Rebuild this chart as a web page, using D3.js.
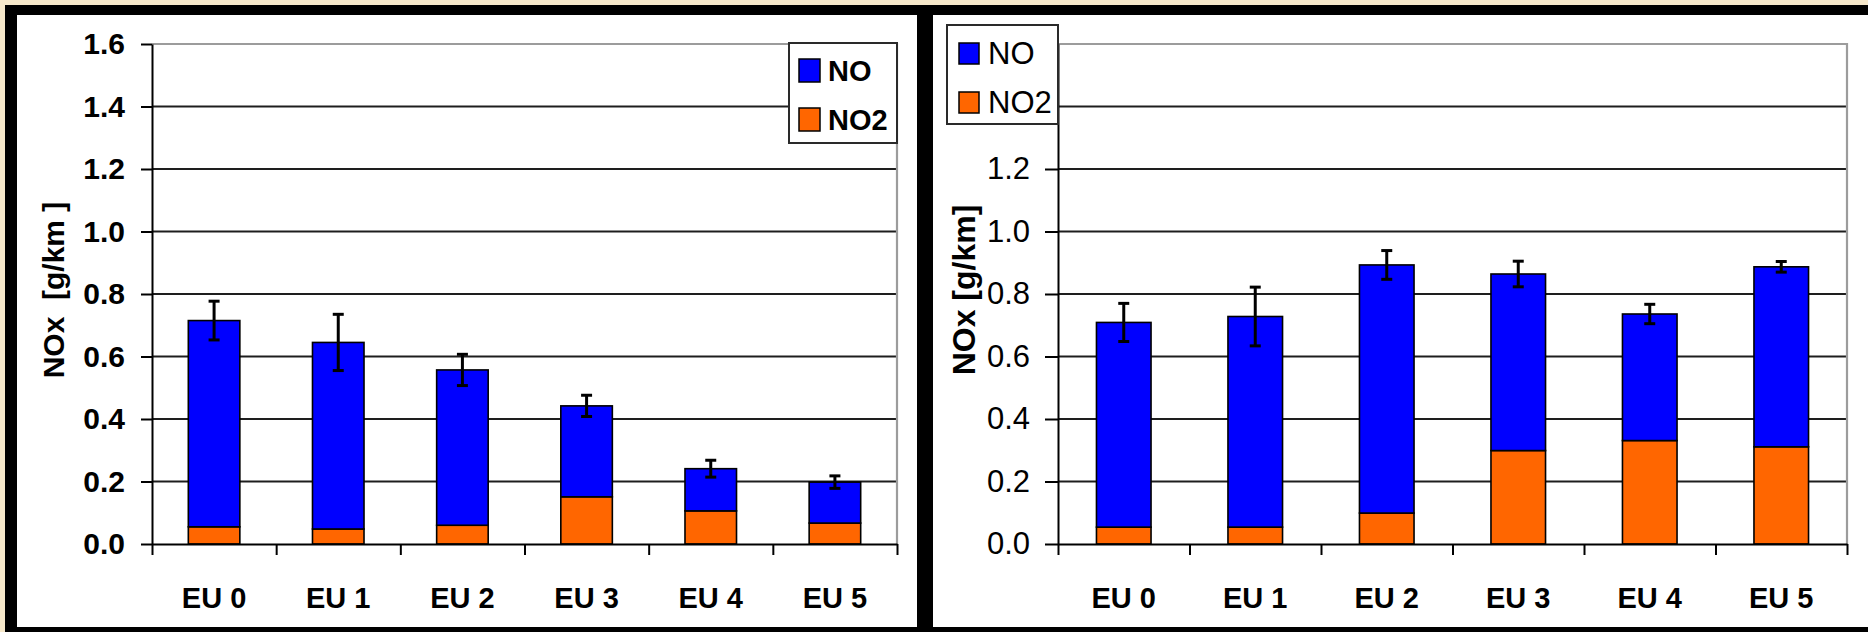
<!DOCTYPE html>
<html>
<head>
<meta charset="utf-8">
<script src="https://cdn.jsdelivr.net/npm/d3@7"></script>
<style>
  html, body { margin: 0; padding: 0; background: #f6e8ca; }
  svg { display: block; }
  text { font-family: "Liberation Sans", Arial, sans-serif; fill: #000; }
</style>
</head>
<body>
<svg id="chart" width="1868" height="632"></svg>
<script>
// ---------- DATA ----------
const categories = ["EU 0", "EU 1", "EU 2", "EU 3", "EU 4", "EU 5"];
const seriesNames = ["NO", "NO2"];
const yTickValues = [0, 0.2, 0.4, 0.6, 0.8, 1.0, 1.2, 1.4, 1.6];

// Left panel
const leftNO2 = [0.055, 0.048, 0.060, 0.151, 0.106, 0.067];
const leftNO  = [0.660, 0.597, 0.497, 0.291, 0.135, 0.131];
const leftErr = [0.062, 0.090, 0.050, 0.034, 0.027, 0.020];

// Right panel
const rightNO2 = [0.054, 0.054, 0.099, 0.299, 0.331, 0.311];
const rightNO  = [0.655, 0.674, 0.794, 0.565, 0.405, 0.576];
const rightErr = [0.061, 0.094, 0.046, 0.041, 0.031, 0.017];
// tick labels hidden behind the right legend in the reference
const rightHiddenTicks = [1.4, 1.6];

const yTitleLeft = "NOx  [g/km ]";
const yTitleRight = "NOx [g/km]";

// ---------- STYLE ----------
const colors = { NO: "#0000ff", NO2: "#ff6600" };
const FONT = '"Liberation Sans", Arial, sans-serif';

const svg = d3.select("#chart");

// frame: black background with white panels
svg.append("rect").attr("x", 5).attr("y", 5).attr("width", 1863).attr("height", 627).attr("fill", "#000");
svg.append("rect").attr("x", 17).attr("y", 15).attr("width", 900).attr("height", 612).attr("fill", "#fff");
svg.append("rect").attr("x", 933).attr("y", 15).attr("width", 935).attr("height", 612).attr("fill", "#fff");

function drawPanel(opt) {
  const g = svg.append("g");
  const y = d3.scaleLinear().domain([0, 1.6]).range([opt.y0, opt.y1]);
  const x = d3.scaleBand().domain(categories).range([opt.x0, opt.x1])
    .paddingInner(0.585).paddingOuter(0.2925);
  const xb = d3.scaleLinear().domain([0, categories.length]).range([opt.x0, opt.x1]);

  // gridlines
  g.append("g").selectAll("line")
    .data(yTickValues.filter(v => v > 0 && v < 1.6))
    .join("line")
    .attr("x1", opt.x0).attr("x2", opt.x1)
    .attr("y1", d => y(d)).attr("y2", d => y(d))
    .attr("stroke", "#1e1e1e").attr("stroke-width", 2);

  // plot-area border (top and right), grey
  g.append("path")
    .attr("d", `M${opt.x0},${y(1.6)}H${opt.x1}V${y(0)}`)
    .attr("fill", "none").attr("stroke", "#9c9c9c").attr("stroke-width", 2.2);

  // stacked bars
  const rows = categories.map((c, i) => ({ cat: c, NO2: opt.no2[i], NO: opt.no[i], err: opt.err[i] }));
  const stack = d3.stack().keys(["NO2", "NO"])(rows);
  g.append("g").selectAll("g")
    .data(stack).join("g")
    .attr("fill", d => colors[d.key])
    .selectAll("rect")
    .data(d => d).join("rect")
    .attr("x", d => x(d.data.cat))
    .attr("width", x.bandwidth())
    .attr("y", d => y(d[1]))
    .attr("height", d => y(d[0]) - y(d[1]))
    .attr("stroke", "#000").attr("stroke-width", 1.6);

  // error bars
  const eb = g.append("g").attr("stroke", "#000").attr("stroke-width", 3);
  rows.forEach(r => {
    const tot = r.NO2 + r.NO;
    const cx = x(r.cat) + x.bandwidth() / 2;
    eb.append("line").attr("x1", cx).attr("x2", cx).attr("y1", y(tot + r.err)).attr("y2", y(tot - r.err));
    eb.append("line").attr("x1", cx - 5.5).attr("x2", cx + 5.5).attr("y1", y(tot + r.err)).attr("y2", y(tot + r.err));
    eb.append("line").attr("x1", cx - 5.5).attr("x2", cx + 5.5).attr("y1", y(tot - r.err)).attr("y2", y(tot - r.err));
  });

  // y axis
  const hidden = opt.hiddenTicks || [];
  const ya = g.append("g").attr("transform", `translate(${opt.x0},0)`)
    .call(d3.axisLeft(y).tickValues(yTickValues).tickFormat(d3.format(".1f"))
      .tickSizeInner(opt.tickLen).tickSizeOuter(0).tickPadding(opt.tickPad));
  ya.select(".domain").attr("stroke", "#000").attr("stroke-width", 2);
  ya.selectAll(".tick line").attr("stroke", "#000").attr("stroke-width", 2);
  ya.selectAll(".tick").filter(d => hidden.includes(d)).select("text").remove();
  ya.selectAll(".tick text")
    .style("font-family", FONT)
    .style("font-size", opt.yTickSize + "px")
    .style("font-weight", opt.yTickWeight)
    .attr("fill", "#000");

  // x axis: ticks at category boundaries
  const xa = g.append("g").attr("transform", `translate(0,${opt.y0})`)
    .call(d3.axisBottom(xb).tickValues(d3.range(categories.length + 1)).tickFormat("")
      .tickSizeInner(11).tickSizeOuter(0));
  xa.select(".domain").attr("stroke", "#000").attr("stroke-width", 2);
  xa.selectAll(".tick line").attr("stroke", "#000").attr("stroke-width", 2);

  // x labels
  const xl = g.append("g").attr("transform", `translate(0,${opt.y0})`)
    .call(d3.axisBottom(x).tickSize(0).tickPadding(43));
  xl.select(".domain").remove();
  xl.selectAll(".tick text")
    .style("font-family", FONT).style("font-size", "29px").style("font-weight", "bold")
    .attr("fill", "#000");

  // y title
  g.append("text")
    .attr("transform", `translate(${opt.titleX},${opt.titleY}) rotate(-90)`)
    .attr("text-anchor", "middle")
    .style("font-size", opt.titleSize + "px").style("font-weight", "bold")
    .style("white-space", "pre")
    .text(opt.title);

  // legend
  const lg = g.append("g");
  lg.append("rect").attr("x", opt.leg.x).attr("y", opt.leg.y)
    .attr("width", opt.leg.w).attr("height", opt.leg.h)
    .attr("fill", "#fff").attr("stroke", "#2a2a2a").attr("stroke-width", 2);
  seriesNames.forEach((s, i) => {
    lg.append("rect")
      .attr("x", opt.leg.sx).attr("y", opt.leg.sy[i])
      .attr("width", opt.leg.sw).attr("height", opt.leg.sh)
      .attr("fill", colors[s]).attr("stroke", "#000").attr("stroke-width", 1.5);
    lg.append("text")
      .attr("x", opt.leg.tx).attr("y", opt.leg.ty[i])
      .style("font-size", opt.leg.fs + "px").style("font-weight", opt.leg.fw)
      .text(s);
  });
}

drawPanel({
  x0: 152, x1: 897, y0: 544, y1: 44,
  no: leftNO, no2: leftNO2, err: leftErr,
  tickLen: 11, tickPad: 16, yTickSize: 30, yTickWeight: "bold",
  title: yTitleLeft, titleX: 64, titleY: 290, titleSize: 30,
  leg: { x: 789, y: 43, w: 108, h: 100, sx: 799, sy: [59, 108], sw: 21, sh: 23,
         tx: 828, ty: [81, 130], fs: 29, fw: "bold" }
});

drawPanel({
  x0: 1058, x1: 1847, y0: 544, y1: 44,
  no: rightNO, no2: rightNO2, err: rightErr, hiddenTicks: rightHiddenTicks,
  tickLen: 13, tickPad: 15, yTickSize: 31, yTickWeight: "normal",
  title: yTitleRight, titleX: 975, titleY: 290, titleSize: 32,
  leg: { x: 947, y: 25, w: 111, h: 99, sx: 959, sy: [43, 92], sw: 20, sh: 21,
         tx: 988, ty: [64, 113], fs: 31, fw: "normal" }
});
</script>
</body>
</html>
